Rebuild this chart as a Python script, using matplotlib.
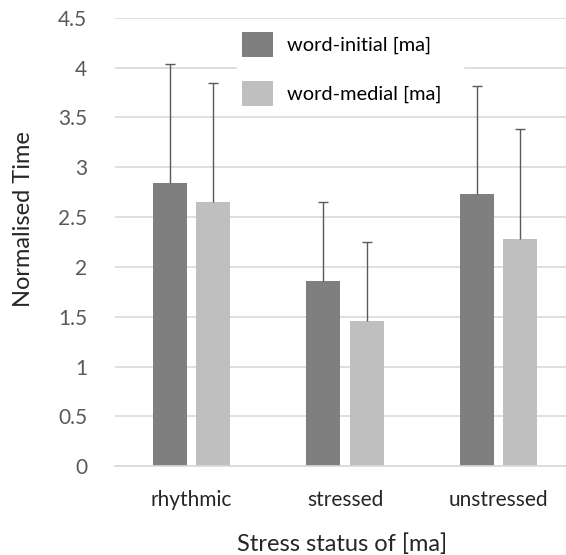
import numpy as np
import matplotlib
matplotlib.use("Agg")
import matplotlib.pyplot as plt

categories = ["rhythmic", "stressed", "unstressed"]
initial_vals = [2.84, 1.86, 2.73]
initial_err = [1.20, 0.79, 1.09]
medial_vals = [2.65, 1.46, 2.28]
medial_err = [1.20, 0.79, 1.10]
yticks = [0, 0.5, 1, 1.5, 2, 2.5, 3, 3.5, 4, 4.5]

plt.rcParams['font.family'] = ['Lato', 'DejaVu Sans']

fig = plt.figure(figsize=(5.66, 5.55), dpi=100)
ax = fig.add_axes([0.203, 0.160, 0.797, 0.808])

x = np.arange(len(categories))
w = 0.22
off = 0.1417
ax.bar(x - off, initial_vals, w, color="#7f7f7f", label="word-initial [ma]", zorder=2)
ax.bar(x + off, medial_vals, w, color="#bfbfbf", label="word-medial [ma]", zorder=2)

# upper-only error bars
for xs, vals, errs in [(x - off, initial_vals, initial_err), (x + off, medial_vals, medial_err)]:
    tops = np.array(vals) + np.array(errs)
    ax.vlines(xs, vals, tops, color="#595959", linewidth=1, zorder=3)
    ax.scatter(xs, tops, marker="_", s=60, color="#595959", linewidths=1, zorder=3)

ax.set_xlim(-0.5, 2.44)
ax.set_ylim(0, 4.5)
ax.set_yticks(yticks)
ax.set_yticklabels([f"{t:g}" for t in yticks], fontsize=15, color="#595959")
ax.set_xticks(x)
ax.set_xticklabels(categories, fontsize=15, color="#262626")
ax.tick_params(length=0)
ax.tick_params(axis="x", pad=17)
ax.tick_params(axis="y", pad=20)
ax.yaxis.grid(True, color="#d9d9d9", linewidth=1.2, zorder=0)
ax.set_axisbelow(True)
for s in ["top", "right", "left"]:
    ax.spines[s].set_visible(False)
ax.spines["bottom"].set_color("#d9d9d9")
ax.spines["bottom"].set_linewidth(1.2)

fig.text(0.041, 0.6045, "Normalised Time", fontsize=17, color="#262626",
         rotation=90, ha="center", va="center")
fig.text(0.605, 0.0072, "Stress status of [ma]", fontsize=17, color="#262626",
         ha="center", va="baseline")

leg = ax.legend(loc="upper left", bbox_to_anchor=(0.2705, 0.980, 0.501, 0), mode="expand",
                frameon=True, fontsize=14.4, handlelength=1.55, handleheight=1.55,
                labelspacing=1.2, borderpad=0.25, handletextpad=0.7, borderaxespad=0)
leg.get_frame().set_facecolor("white")
leg.get_frame().set_edgecolor("white")
leg.get_frame().set_alpha(1)

fig.savefig("out.png", dpi=100)
